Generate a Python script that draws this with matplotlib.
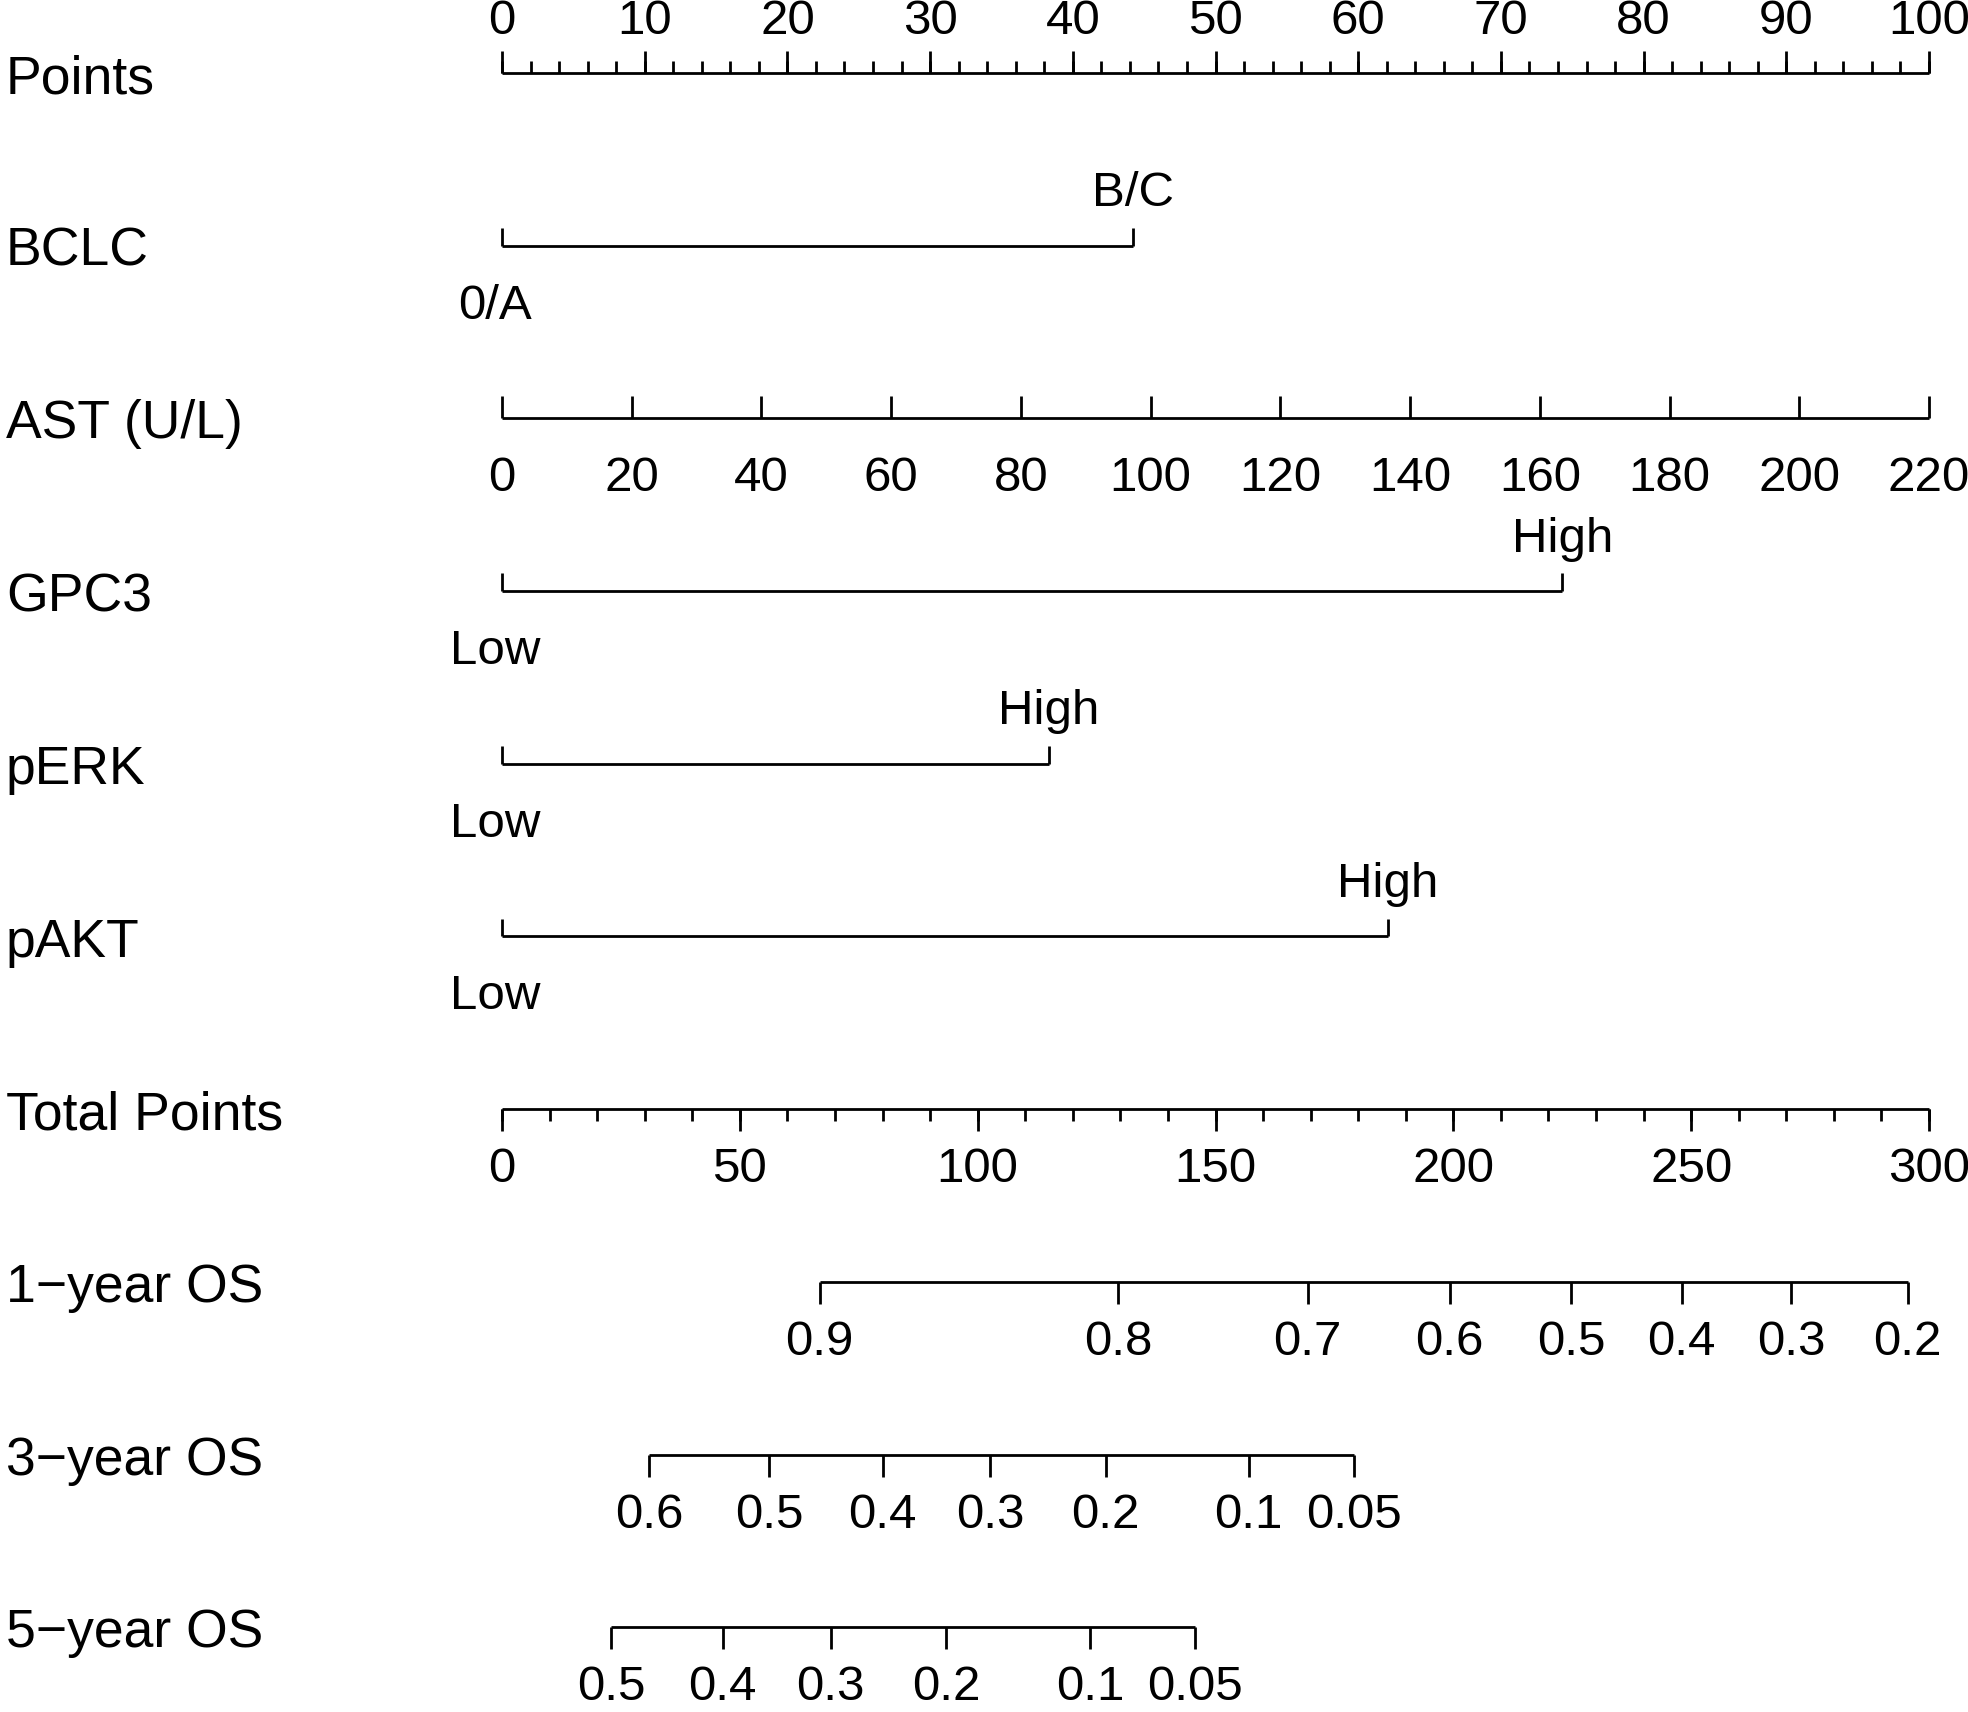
import numpy as np
import matplotlib.pyplot as plt

plt.rcParams['font.family'] = ['Liberation Sans', 'DejaVu Sans']

# row labels (top to bottom)
row_names = ['Points', 'BCLC', 'AST (U/L)', 'GPC3', 'pERK', 'pAKT',
             'Total Points', '1\u2212year OS', '3\u2212year OS', '5\u2212year OS']

# points scale
points_major = np.arange(0, 101, 10)
points_minor = np.arange(0, 101, 2)

# categorical predictors: level names and their points
bclc_levels = ['0/A', 'B/C']
bclc_points = [0, 44.2]
gpc3_levels = ['Low', 'High']
gpc3_points = [0, 74.3]
perk_levels = ['Low', 'High']
perk_points = [0, 38.3]
pakt_levels = ['Low', 'High']
pakt_points = [0, 62.1]

# continuous predictor AST: 220 U/L gives 100 points
ast_ticks = np.arange(0, 221, 20)
ast_max = 220

# total points scale
total_major = np.arange(0, 301, 50)
total_minor = np.arange(0, 301, 10)
total_max = 300

# survival probability scales (position in total points)
os1_labels = ['0.9', '0.8', '0.7', '0.6', '0.5', '0.4', '0.3', '0.2']
os1_total = [66.8, 129.6, 169.4, 199.2, 224.8, 248.0, 271.0, 295.5]
os3_labels = ['0.6', '0.5', '0.4', '0.3', '0.2', '0.1', '0.05']
os3_total = [30.9, 56.2, 80.0, 102.6, 126.9, 157.0, 179.2]
os5_labels = ['0.5', '0.4', '0.3', '0.2', '0.1', '0.05']
os5_total = [23.0, 46.4, 69.1, 93.4, 123.7, 145.6]

W, H = 1968, 1712
fig = plt.figure(figsize=(W / 100, H / 100), dpi=100)
ax = fig.add_axes([0, 0, 1, 1])
ax.axis('off')

# pixel layout: 0 points at x=502, 100 points at x=1929; rows evenly spaced from y=73
x0, x1 = 502, 1929
sx = (x1 - x0) / 100.0
ax.set_xlim(-x0 / sx, (W - x0) / sx)
y0, dy = 73, 172.7
ax.set_ylim((H - y0) / dy, -y0 / dy)

lw = 2.0
big = 22 / dy
small = 12 / dy
lab_fs = 38.5
tick_fs = 35.5
off_above = 0.30
base_below = 73 / dy   # baseline of labels under a line

for i, name in enumerate(row_names):
    ax.text(-x0 / sx + 6 / sx, i + 0.035, name, fontsize=lab_fs, ha='left', va='center')


def scale_line(row, xs, major, minor=None, up=True, labels=None, below=True):
    sgn = -1 if up else 1
    ax.plot([min(xs), max(xs)], [row, row], color='black', lw=lw, solid_capstyle='butt')
    if minor is not None:
        ax.vlines(minor, row, row + sgn * small, color='black', lw=lw)
    ax.vlines(major, row, row + sgn * big, color='black', lw=lw)
    if labels is not None:
        for x, t in zip(major, labels):
            if below:
                ax.text(x, row + base_below, t, fontsize=tick_fs, ha='center', va='baseline')
            else:
                ax.text(x, row - off_above, t, fontsize=tick_fs, ha='center', va='center')


def cat_line(row, levels, pts):
    ax.plot([pts[0], pts[-1]], [row, row], color='black', lw=lw, solid_capstyle='butt')
    ax.vlines(pts, row, row - big * 0.8, color='black', lw=lw)
    ax.text(pts[0] - 0.5, row + base_below, levels[0], fontsize=tick_fs, ha='center', va='baseline')
    ax.text(pts[-1], row - off_above, levels[-1], fontsize=tick_fs, ha='center', va='center')


# Points
scale_line(0, [0, 100], points_major, points_minor, up=True,
           labels=[str(v) for v in points_major], below=False)

cat_line(1, bclc_levels, bclc_points)

ast_x = ast_ticks / ast_max * 100
scale_line(2, ast_x, ast_x, up=True, labels=[str(v) for v in ast_ticks], below=True)

cat_line(3, gpc3_levels, gpc3_points)
cat_line(4, perk_levels, perk_points)
cat_line(5, pakt_levels, pakt_points)

scale_line(6, total_major / total_max * 100, total_major / total_max * 100,
           total_minor / total_max * 100, up=False,
           labels=[str(v) for v in total_major], below=True)

for row, labs, tot in [(7, os1_labels, os1_total), (8, os3_labels, os3_total),
                       (9, os5_labels, os5_total)]:
    xs = np.array(tot) / total_max * 100
    scale_line(row, xs, xs, up=False, labels=labs, below=True)

fig.savefig('out.png', dpi=100)
